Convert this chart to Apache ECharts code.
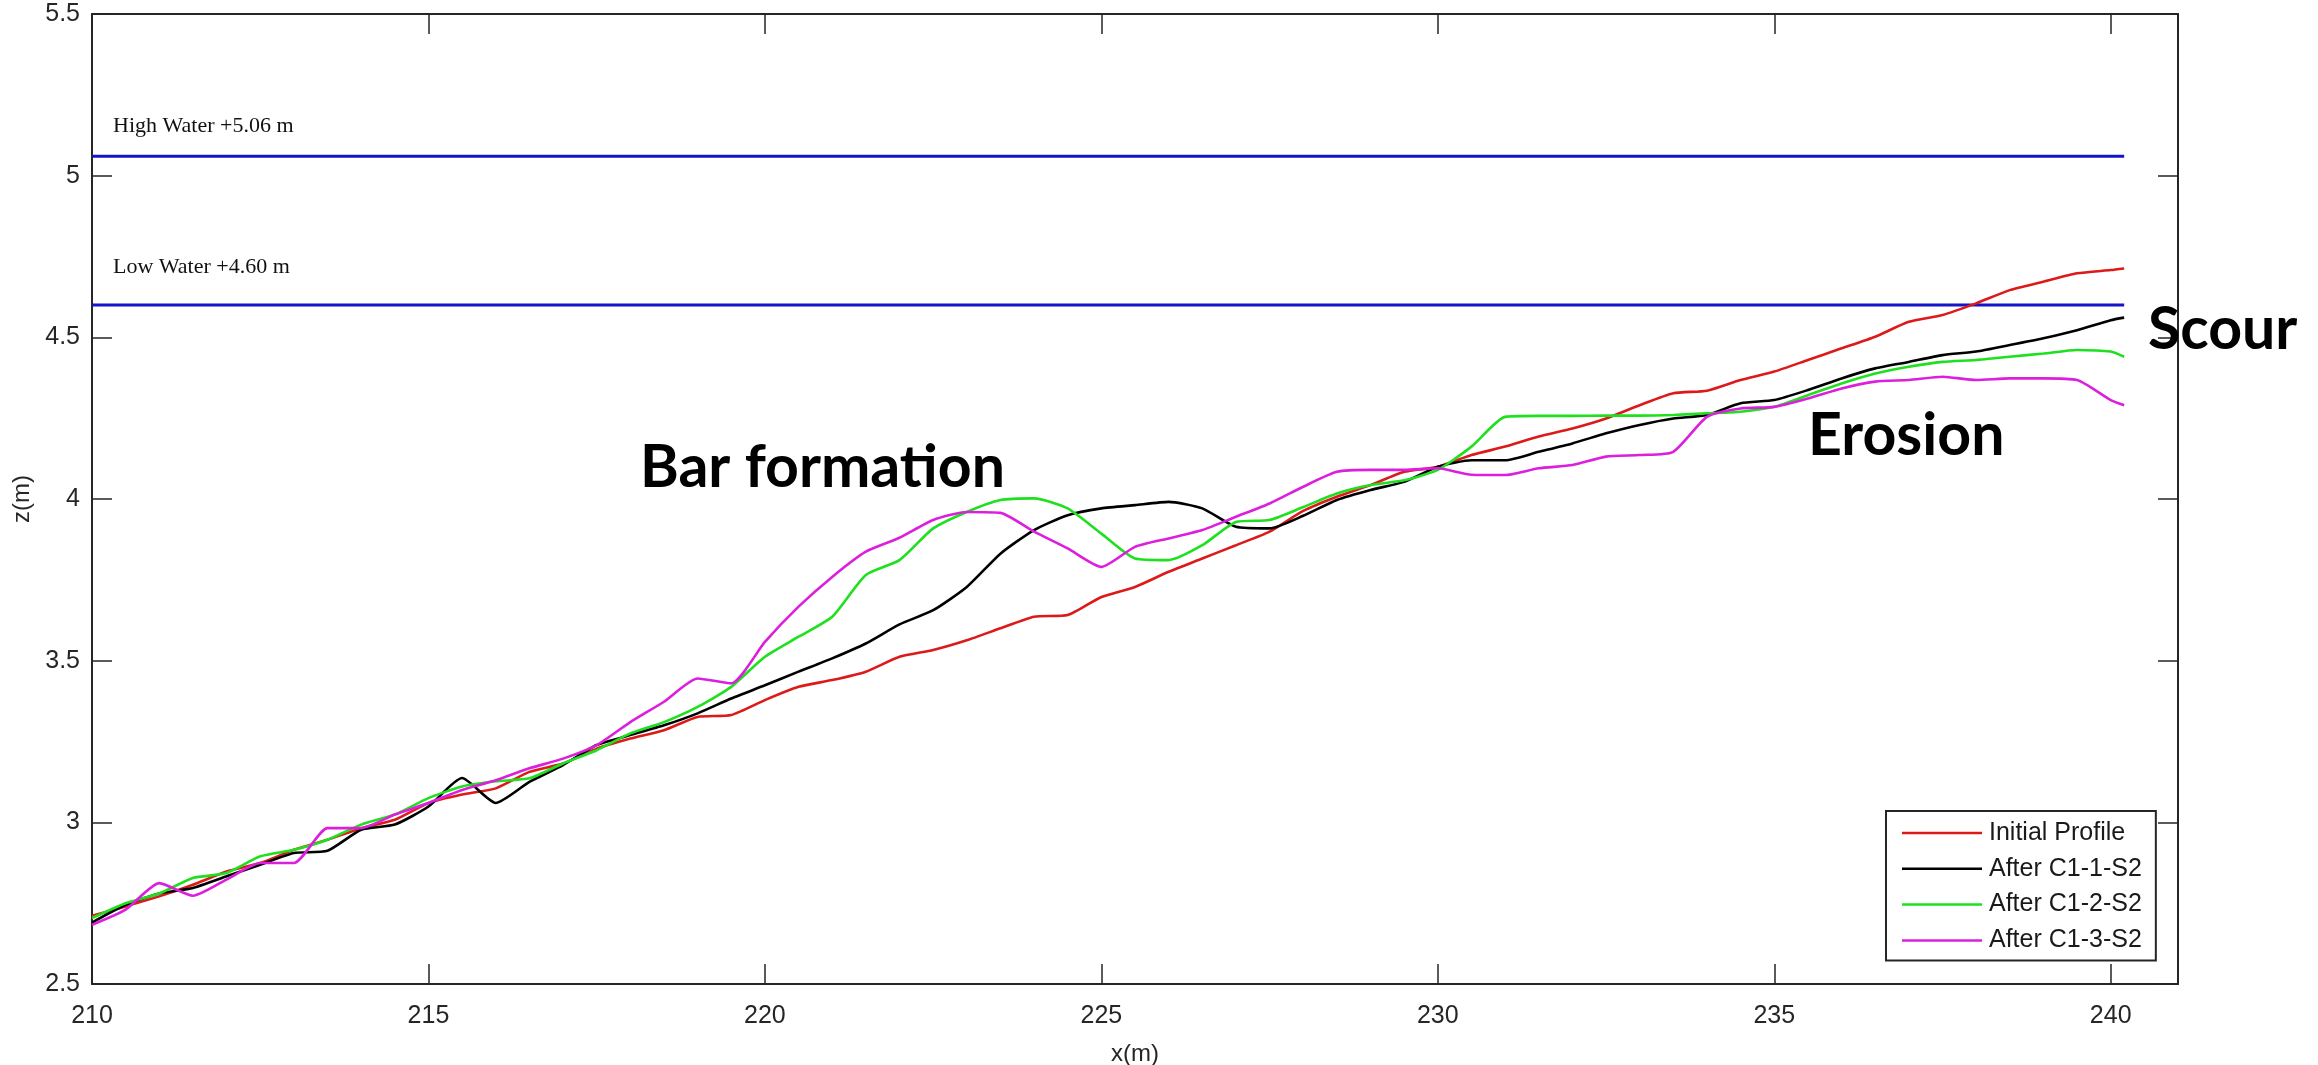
<!DOCTYPE html>
<html>
<head>
<meta charset="utf-8">
<script src="https://cdn.jsdelivr.net/npm/echarts@6/dist/echarts.min.js"></script>
<style>
  html, body { margin: 0; padding: 0; background: #fff; }
  #chart { width: 2318px; height: 1065px; }
</style>
</head>
<body>
<div id="chart"></div>
<script>
// cross-shore position (m)
var xs = [210, 210.5, 211, 211.5, 212, 212.5, 213, 213.5, 214, 214.5, 215, 215.5, 216, 216.5,
  217, 217.5, 218, 218.5, 219, 219.5, 220, 220.5, 221, 221.5, 222, 222.5, 223, 223.5,
  224, 224.5, 225, 225.5, 226, 226.5, 227, 227.5, 228, 228.5, 229, 229.5, 230, 230.5,
  231, 231.5, 232, 232.5, 233, 233.5, 234, 234.5, 235, 235.5, 236, 236.5, 237, 237.5,
  238, 238.5, 239, 239.5, 240, 240.2]

var initialProfile = [2.711, 2.74, 2.771, 2.807, 2.848, 2.874, 2.915, 2.946, 2.982, 3.008, 3.06, 3.086, 3.105, 3.156,
  3.182, 3.228, 3.259, 3.285, 3.326, 3.332, 3.378, 3.419, 3.44, 3.466, 3.512, 3.533, 3.563, 3.6,
  3.636, 3.641, 3.697, 3.728, 3.775, 3.816, 3.857, 3.899, 3.963, 4.007, 4.043, 4.084, 4.1, 4.136,
  4.162, 4.193, 4.218, 4.249, 4.29, 4.327, 4.335, 4.368, 4.394, 4.43, 4.466, 4.502, 4.548, 4.569,
  4.605, 4.646, 4.672, 4.698, 4.708, 4.713]

var afterC11 = [2.69, 2.745, 2.78, 2.797, 2.833, 2.869, 2.905, 2.912, 2.977, 2.993, 3.049, 3.137, 3.06, 3.125,
  3.177, 3.239, 3.27, 3.3, 3.337, 3.383, 3.424, 3.466, 3.507, 3.553, 3.612, 3.656, 3.728, 3.831,
  3.904, 3.95, 3.971, 3.981, 3.991, 3.971, 3.914, 3.909, 3.948, 3.997, 4.028, 4.053, 4.1, 4.12,
  4.12, 4.146, 4.172, 4.203, 4.229, 4.249, 4.26, 4.296, 4.306, 4.337, 4.373, 4.404, 4.424, 4.445,
  4.456, 4.476, 4.497, 4.522, 4.553, 4.561]

var afterC12 = [2.704, 2.75, 2.78, 2.828, 2.843, 2.895, 2.915, 2.946, 2.993, 3.024, 3.075, 3.111, 3.127, 3.136,
  3.182, 3.223, 3.275, 3.31, 3.357, 3.419, 3.512, 3.574, 3.636, 3.765, 3.811, 3.909, 3.96, 3.997,
  4.002, 3.971, 3.893, 3.816, 3.811, 3.857, 3.929, 3.935, 3.975, 4.017, 4.043, 4.058, 4.09, 4.162,
  4.254, 4.257, 4.257, 4.258, 4.258, 4.26, 4.265, 4.27, 4.285, 4.321, 4.357, 4.388, 4.409, 4.424,
  4.43, 4.44, 4.45, 4.461, 4.456, 4.44]

var afterC13 = [2.683, 2.73, 2.812, 2.773, 2.823, 2.874, 2.874, 2.982, 2.982, 3.024, 3.06, 3.1, 3.13, 3.167,
  3.197, 3.239, 3.31, 3.373, 3.445, 3.43, 3.558, 3.667, 3.759, 3.837, 3.88, 3.935, 3.96, 3.957,
  3.899, 3.847, 3.79, 3.852, 3.878, 3.904, 3.945, 3.986, 4.038, 4.084, 4.09, 4.09, 4.095, 4.075,
  4.074, 4.095, 4.105, 4.131, 4.136, 4.146, 4.254, 4.28, 4.285, 4.311, 4.342, 4.363, 4.368, 4.378,
  4.368, 4.373, 4.373, 4.368, 4.306, 4.29]

// tide levels
var waterX = [210, 240.2]
var highWater = 5.06
var lowWater = 4.60

var seriesNames = ['Initial Profile', 'After C1-1-S2', 'After C1-2-S2', 'After C1-3-S2']
var seriesColors = ['#dd1a1a', '#000000', '#1fe01f', '#dc1fdc']
var seriesValues = [initialProfile, afterC11, afterC12, afterC13]

var chart = echarts.init(document.getElementById('chart'))

function pairs(vals) {
  return xs.map(function(x, i) { return [x, vals[i]] })
}

var axisColor = '#262626'
var tickFont = { fontFamily: 'Liberation Sans', fontSize: 25, color: '#262626' }

var series = seriesNames.map(function(name, i) {
  return {
    name: name,
    type: 'line',
    symbol: 'none',
    smooth: 0.2,
    lineStyle: { color: seriesColors[i], width: 2.6 },
    itemStyle: { color: seriesColors[i] },
    data: pairs(seriesValues[i]),
    z: 3 + i,
    animation: false
  }
})

// water level lines
;[highWater, lowWater].forEach(function(level) {
  series.push({
    type: 'line',
    symbol: 'none',
    silent: true,
    lineStyle: { color: '#1414c8', width: 3 },
    data: waterX.map(function(x) { return [x, level] }),
    z: 2,
    animation: false
  })
})

chart.setOption({
  backgroundColor: '#fff',
  animation: false,
  grid: { left: 92, right: 140, top: 14, bottom: 81, containLabel: false, outerBoundsMode: 'none' },
  legend: {
    data: seriesNames,
    orient: 'vertical',
    left: 1886,
    top: 811,
    padding: [9, 14, 7, 16],
    icon: 'rect',
    itemWidth: 80,
    itemHeight: 2.5,
    itemGap: 9.8,
    backgroundColor: '#fff',
    borderColor: axisColor,
    borderWidth: 2,
    borderRadius: 0,
    textStyle: { fontFamily: 'Liberation Sans', fontSize: 25, lineHeight: 26, color: '#1a1a1a', padding: [0, 0, 0, 2] }
  },
  xAxis: [{
    type: 'value',
    min: 210,
    max: 241,
    interval: 5,
    name: 'x(m)',
    nameLocation: 'middle',
    nameGap: 58,
    nameTextStyle: { fontFamily: 'Liberation Sans', fontSize: 24, color: '#262626' },
    axisLine: { show: true, lineStyle: { color: axisColor, width: 2 } },
    axisTick: { show: true, inside: true, length: 20, lineStyle: { color: axisColor, width: 1.5 } },
    axisLabel: Object.assign({ margin: 20, showMaxLabel: false }, tickFont),
    splitLine: { show: false }
  }, {
    type: 'value',
    position: 'top',
    min: 210,
    max: 241,
    interval: 5,
    axisLine: { show: true, lineStyle: { color: axisColor, width: 2 } },
    axisTick: { show: true, inside: true, length: 20, lineStyle: { color: axisColor, width: 1.5 } },
    axisLabel: { show: false },
    splitLine: { show: false }
  }],
  yAxis: [{
    type: 'value',
    min: 2.5,
    max: 5.5,
    interval: 0.5,
    name: 'z(m)',
    nameLocation: 'middle',
    nameGap: 52,
    nameTextStyle: { fontFamily: 'Liberation Sans', fontSize: 24, color: '#262626' },
    axisLine: { show: true, lineStyle: { color: axisColor, width: 2 } },
    axisTick: { show: true, inside: true, length: 20, lineStyle: { color: axisColor, width: 1.5 } },
    axisLabel: Object.assign({ margin: 12 }, tickFont),
    splitLine: { show: false }
  }, {
    type: 'value',
    position: 'right',
    min: 2.5,
    max: 5.5,
    interval: 0.5,
    axisLine: { show: true, lineStyle: { color: axisColor, width: 2 } },
    axisTick: { show: true, inside: true, length: 20, lineStyle: { color: axisColor, width: 1.5 } },
    axisLabel: { show: false },
    splitLine: { show: false }
  }],
  graphic: [
    { type: 'text', left: 113, top: 115, z: 10,
      style: { text: 'High Water +5.06 m', font: '22px "Liberation Serif"', fill: '#111' } },
    { type: 'text', left: 113, top: 256, z: 10,
      style: { text: 'Low Water +4.60 m', font: '22px "Liberation Serif"', fill: '#111' } },
    { type: 'text', left: 640, top: 438, z: 10,
      style: { text: 'Bar formation', font: 'bold 59px Lato', fill: '#000' } },
    { type: 'text', left: 1808, top: 406, z: 10,
      style: { text: 'Erosion', font: 'bold 59px Lato', fill: '#000' } },
    { type: 'text', left: 2148, top: 300, z: 10,
      style: { text: 'Scour', font: 'bold 59px Lato', fill: '#000' } }
  ],
  series: series
})
</script>
</body>
</html>
